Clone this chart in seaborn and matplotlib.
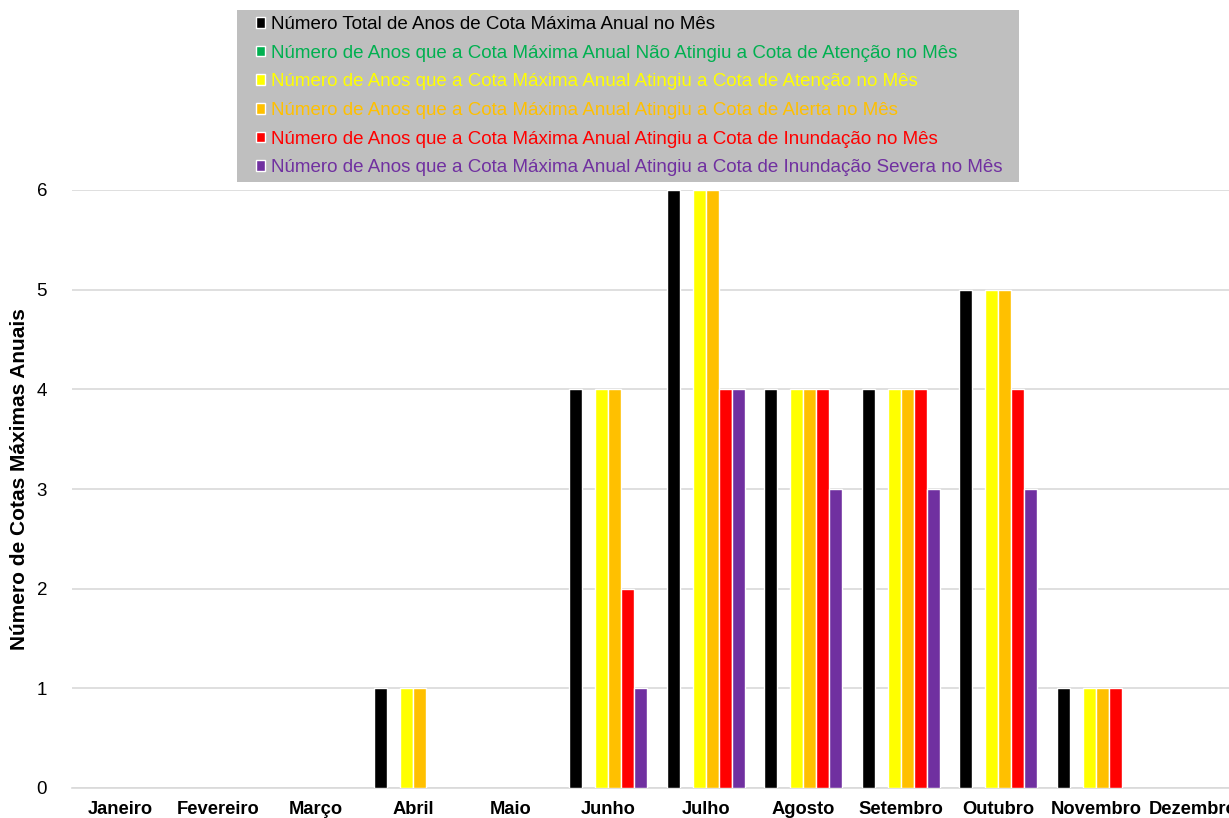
import numpy as np
import pandas as pd
import seaborn as sns
import matplotlib.pyplot as plt
from matplotlib.patches import Rectangle

meses = ["Janeiro", "Fevereiro", "Março", "Abril", "Maio", "Junho",
         "Julho", "Agosto", "Setembro", "Outubro", "Novembro", "Dezembro"]

series_names = [
    "Número Total de Anos de Cota Máxima Anual no Mês",
    "Número de Anos que a Cota Máxima Anual Não Atingiu a Cota de Atenção no Mês",
    "Número de Anos que a Cota Máxima Anual Atingiu a Cota de Atenção no Mês",
    "Número de Anos que a Cota Máxima Anual Atingiu a Cota de Alerta no Mês",
    "Número de Anos que a Cota Máxima Anual Atingiu a Cota de Inundação no Mês",
    "Número de Anos que a Cota Máxima Anual Atingiu a Cota de Inundação Severa no Mês",
]
cores = ["#000000", "#00B050", "#FFFF00", "#FFC000", "#FF0000", "#7030A0"]

total = [0, 0, 0, 1, 0, 4, 6, 4, 4, 5, 1, 0]
nao_atencao = [0, 0, 0, 0, 0, 0, 0, 0, 0, 0, 0, 0]
atencao = [0, 0, 0, 1, 0, 4, 6, 4, 4, 5, 1, 0]
alerta = [0, 0, 0, 1, 0, 4, 6, 4, 4, 5, 1, 0]
inundacao = [0, 0, 0, 0, 0, 2, 4, 4, 4, 4, 1, 0]
severa = [0, 0, 0, 0, 0, 1, 4, 3, 3, 3, 0, 0]

valores = [total, nao_atencao, atencao, alerta, inundacao, severa]
rows = []
for nome, vals in zip(series_names, valores):
    for m, v in zip(meses, vals):
        rows.append({"Mês": m, "Série": nome, "Valor": v})
df = pd.DataFrame(rows)

sns.set_style("white")
plt.rcParams["font.family"] = ["Liberation Sans", "DejaVu Sans"]

fig = plt.figure(figsize=(12.29, 8.18), dpi=100)
ax = fig.add_axes([72 / 1229, 30 / 818, 1170 / 1229, 598 / 818])

sns.barplot(data=df, x="Mês", y="Valor", hue="Série", order=meses,
            hue_order=series_names, palette=cores, width=0.8, saturation=1,
            edgecolor="white", linewidth=1, ax=ax, zorder=3)

for cont in ax.containers:
    for p in cont.patches:
        if p.get_height() == 0:
            p.set_visible(False)

ax.set_ylim(0, 6)
ax.set_xlim(-0.5, 11.5)
ax.set_yticks(range(0, 7))
ax.yaxis.grid(True, color="#D9D9D9", linewidth=1.2, zorder=0)
ax.set_axisbelow(True)
for s in ["top", "right", "left"]:
    ax.spines[s].set_visible(False)
ax.spines["bottom"].set_color("#D9D9D9")
ax.spines["bottom"].set_linewidth(1.2)

ax.set_xticks(np.arange(-0.5, 12, 1), minor=True)
ax.tick_params(axis="x", which="major", length=0, pad=9, labelcolor="black")
ax.tick_params(axis="x", which="minor", length=6, color="#D9D9D9", width=1.2)
ax.tick_params(axis="y", length=0, pad=18, labelsize=13.5, labelcolor="black")
for t in ax.get_xticklabels():
    t.set_fontweight("bold")
    t.set_fontsize(13.2)

ax.set_xlabel("")
ax.set_ylabel("Número de Cotas Máximas Anuais", fontsize=15,
              fontweight="bold", color="black")
ax.yaxis.set_label_coords(-0.037, 0.517)

# caixa cinza da legenda
fig.patches.append(Rectangle((237 / 1229, 1 - 182 / 818), 782 / 1229, 172 / 818,
                             transform=fig.transFigure, facecolor="#BFBFBF",
                             edgecolor="none", zorder=0))

handles, labels = ax.get_legend_handles_labels()
ax.legend_.remove()
leg = fig.legend(handles, labels, loc="upper left",
                 bbox_to_anchor=(256 / 1229, 1 - 16 / 818), borderaxespad=0,
                 frameon=False, fontsize=13.5,
                 handlelength=0.5, handleheight=0.5, handletextpad=0.3,
                 labelspacing=0.62, borderpad=0, labelcolor=cores)

plt.savefig("out.png", dpi=100)
